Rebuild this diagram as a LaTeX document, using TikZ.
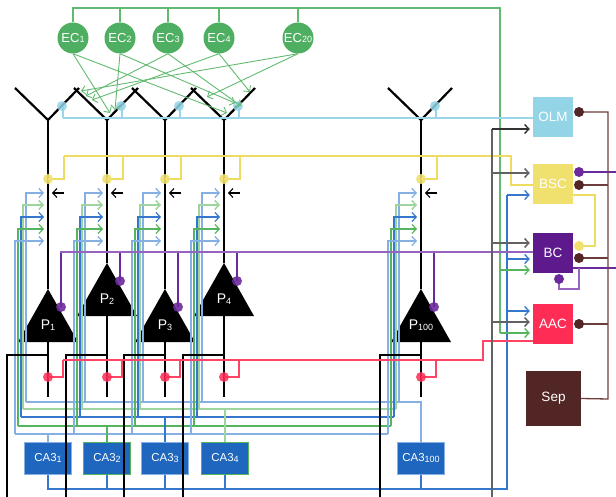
\documentclass[tikz,border=0pt]{standalone}
\usepackage{fontspec}
\setmainfont{Liberation Sans}
\usetikzlibrary{arrows.meta,calc}

\definecolor{ecgreen}{HTML}{4EAF62}
\definecolor{ecline}{HTML}{62BA70}
\definecolor{olmc}{HTML}{93D4E6}
\definecolor{olmline}{HTML}{9AD6EA}
\definecolor{bscc}{HTML}{F0E06E}
\definecolor{bscline}{HTML}{EEDB62}
\definecolor{bcc}{HTML}{5E1A8C}
\definecolor{bcline}{HTML}{9664C0}
\definecolor{bcdot}{HTML}{6A2A9C}
\definecolor{aacc}{HTML}{FF2D55}
\definecolor{aacline}{HTML}{FF4466}
\definecolor{sepc}{HTML}{532626}
\definecolor{sepline}{HTML}{6E3E3E}
\definecolor{cablue}{HTML}{1E66BE}
\definecolor{ltblue}{HTML}{86B0E4}
\definecolor{mdblue}{HTML}{3577CC}
\definecolor{ltgreen}{HTML}{9ED49E}
\definecolor{mdgreen}{HTML}{55B55E}
\definecolor{axgray}{HTML}{626262}

\newcommand\lowidx[1]{\raisebox{-0.6pt}{\fontsize{9}{9}\selectfont #1}}

\begin{document}
\begin{tikzpicture}[x=1pt,y=-1pt,
  every node/.style={inner sep=0pt},
  ecnode/.style={circle,fill=ecgreen,minimum size=31pt,text=white,font=\fontsize{13}{13}\selectfont},
  ibox/.style={rectangle,minimum width=40pt,minimum height=40pt,text=white,font=\fontsize{13.5}{13.5}\selectfont},
  canode/.style={rectangle,fill=cablue,minimum width=47pt,minimum height=32pt,text=white,font=\fontsize{11.5}{11.5}\selectfont,line width=1pt},
  syndot/.style={circle,minimum size=10pt},
  tip/.style={-{Straight Barb[length=4.2pt,width=9pt]}},
  eca/.style={ecline,line width=0.9pt,tip},
  dend/.style={black,line width=2.2pt},
  trunk/.style={black,line width=2.6pt},
  axon/.style={black,line width=1.1pt},
  cline/.style={line width=1.3pt},
  somaid/.style={text=white,font=\fontsize{14}{14}\selectfont}
]
\useasboundingbox (0,0) rectangle (616,497);

% ---------- entorhinal inputs ----------
\node[ecnode] (ec1) at (73,38) {EC\lowidx{1}};
\node[ecnode] (ec2) at (120,38) {EC\lowidx{2}};
\node[ecnode] (ec3) at (168,38) {EC\lowidx{3}};
\node[ecnode] (ec4) at (219,38) {EC\lowidx{4}};
\node[ecnode] (ec20) at (298,38) {EC\lowidx{20}};
\coordinate (ectop) at (500,8);
\draw[ecline,cline] (ec1.north) |- (ectop) -- (500,333);
\foreach \e in {2,3,4,20} \draw[ecline,cline] (ec\e.north) -- (ec\e.north |- ectop);

% ---------- interneurons ----------
\node[ibox,fill=olmc] (olm) at (553,117) {OLM};
\node[ibox,fill=bscc] (bsc) at (553,184) {BSC};
\node[ibox,fill=bcc] (bc) at (553,253) {BC};
\node[ibox,fill=aacc] (aac) at (553,324) {AAC};
\node[ibox,fill=sepc,minimum width=55pt,minimum height=55pt] (sep) at (553.5,398.5) {Sep};

% ---------- pyramidal cells ----------
\foreach \n/\X/\ap/\bs in {1/48/289/342, 2/107/263/316, 3/165/289/342, 4/224/263/316, 100/421/289/342}{
  \coordinate (junc\n) at (\X,120);
  \draw[dend] (\X-33,88) -- (junc\n) -- (\X+31,88);
  \draw[trunk] (junc\n) -- (\X,\ap);
  \fill[black] (\X,\ap) -- (\X-30,\bs) -- (\X+30,\bs) -- cycle;
  \node[somaid] (p\n) at (\X,\bs-17) {P\lowidx{\n}};
  \draw[trunk] (\X,\bs) -- (\X,397);
}

% ---------- CA3 inputs: buses and arrows ----------
\foreach \k/\yk/\off/\by/\col/\lw in {1/193/22/402/ltblue/1.3, 2/205/25/409/ltgreen/1.5, 3/217/27/417/mdblue/1.2, 4/229/30/426/mdgreen/1.2, 5/241/33/434/ltblue/1.3}{
  \draw[\col,line width=\lw pt] (48-\off,\by) -- (421-\off,\by);
  \foreach \X in {48,107,165,224,421}
    \draw[\col,line width=\lw pt,tip] (\X-\off,\by) -- (\X-\off,\yk) -- (\X-4,\yk);
}
\node[canode,draw=ltblue] (ca1) at (48,458) {CA3\lowidx{1}};
\node[canode,draw=mdgreen] (ca2) at (107,458) {CA3\lowidx{2}};
\node[canode,draw=ltblue] (ca3) at (165,458) {CA3\lowidx{3}};
\node[canode,draw=mdgreen] (ca4) at (225,458) {CA3\lowidx{4}};
\node[canode,draw=ltblue] (ca100) at (421,458) {CA3\lowidx{100}};
\draw[ltblue,line width=1.3pt] (ca1.north) -- (48,434);
\draw[mdgreen,line width=1.2pt] (ca2.north) -- (107,426);
\draw[mdblue,line width=1.2pt] (ca3.north) -- (165,417);
\draw[ltgreen,line width=1.5pt] (ca4.north) -- (225,409);
\draw[ltblue,line width=1.3pt] (ca100.north) -- (421,402) -- (399,402);
% Schaffer bundle to interneurons
\coordinate (cabus) at (507,489);
\draw[mdblue,cline] (ca1.south) |- (cabus) -- (507,195);
\foreach \c in {ca2,ca3,ca4,ca100} \draw[mdblue,cline] (\c.south) -- (\c.south |- cabus);
\draw[mdblue,cline,tip] (507,195) -- ([xshift=-3pt]bsc.west |- 0,195);
\draw[mdblue,cline,tip] (507,259) -- ([xshift=-3pt]bc.west |- 0,259);
\draw[mdblue,cline,tip] (507,311) -- ([xshift=-3pt]aac.west |- 0,311);

% ---------- per-cell synapses and axons ----------
\foreach \n/\X/\ap in {1/48/289, 2/107/263, 3/165/289, 4/224/263, 100/421/289}{
  % OLM synapse on the distal dendrite
  \draw[olmline,cline] (\X+15,107) -- (\X+15,118);
  \node[syndot,fill=olmc,opacity=0.85] (od\n) at (\X+14,106) {};
  % BSC synapse
  \draw[bscline,cline] (\X,179) -- (\X+16,179) -- (\X+16,156);
  \node[syndot,fill=bscc,opacity=0.9] (yd\n) at (\X,179) {};
  % septal input
  \draw[black,line width=1.1pt,tip] (\X+16,193) -- (\X+4,193);
  % BC synapse on the soma
  \draw[bcdot,cline] (\X+13,\ap+18) -- (\X+13,252);
  \node[syndot,fill=bcdot,opacity=0.9] (pd\n) at (\X+13,\ap+18) {};
  % AAC synapse on the axon initial segment
  \draw[aacline,cline] (\X,377) -- (\X+15,377) -- (\X+15,360);
  \node[syndot,fill=aacc,opacity=0.85] (rd\n) at (\X,377) {};
  % axon leaving the cell
  \draw[axon] (\X,355) -- (\X-41,355) -- (\X-41,497);
}

% long-range lines into the interneurons
\draw[olmline,cline] (63,118) -- (olm.west |- 0,118);
\draw[bscline,cline] (64,156) -- (511,156) |- (bsc.west |- 0,185);
\draw[bcline,line width=1.4pt] (60,252) -- (bc.west |- 0,252);
\draw[aacline,cline] (63,360) -- (483,360) |- (aac.west |- 0,341);

% pyramidal output to the interneurons
\draw[axgray,line width=1.8pt] (492,497) -- (492,129);
\draw[black!80,line width=1.4pt,tip] (492,129) -- ([xshift=-3pt]olm.west |- 0,129);
\draw[axgray,line width=1.5pt,tip] (492,173) -- ([xshift=-3pt]bsc.west |- 0,173);
\draw[axgray,line width=1.5pt,tip] (492,243) -- ([xshift=-3pt]bc.west |- 0,243);
\draw[axgray,line width=1.5pt,tip] (492,322) -- ([xshift=-3pt]aac.west |- 0,322);

% entorhinal input to the interneurons
\draw[mdgreen,cline,tip] (500,270) -- ([xshift=-3pt]bc.west |- 0,270);
\draw[mdgreen,cline,tip] (500,333) -- ([xshift=-3pt]aac.west |- 0,333);

% entorhinal input to the dendrites
\coordinate (ta1) at (110,113); \coordinate (tb1) at (227,113);
\coordinate (ta2) at (115,110); \coordinate (tb2) at (235,103);
\coordinate (ta3) at (86,96);   \coordinate (tb3) at (241,106);
\coordinate (ta4) at (92,100);  \coordinate (tb4) at (250,92);
\coordinate (ta20) at (81,91);  \coordinate (tb20) at (207,97);
\foreach \e in {1,2,3,4,20}{
  \draw[eca] (ec\e.south) -- (ta\e);
  \draw[eca] (ec\e.south) -- (tb\e);
}

% interneuron-to-interneuron links
\draw[bscline,cline] (bsc.east |- 0,195) -- (595,195) -- (595,246) -- (579,246);
\node[syndot,fill=bscc] (ybc) at (579,246) {};
\draw[bcdot,cline] (bc.east |- 0,268) -- (616,268);
\draw[bcline,cline] (559,279) -- (559,289) -- (579,289) -- (579,268);
\node[syndot,fill=bcdot] (bcself) at (559,279) {};
\draw[bcdot,cline] (579,172) -- (616,172);
\node[syndot,fill=bcdot] (bscp) at (579,172) {};

% septal projections
\coordinate (sepbus) at (608,112);
\draw[sepline,cline] (579,112) -- (sepbus) -- (608,399) -- (sep.east);
\foreach \y in {185,258,324} \draw[sepline,cline] (579,\y) -- (608,\y);
\foreach \y/\nm in {112/s1,185/s2,258/s3,324/s4} \node[syndot,fill=sepc] (\nm) at (579,\y) {};
\end{tikzpicture}
\end{document}
